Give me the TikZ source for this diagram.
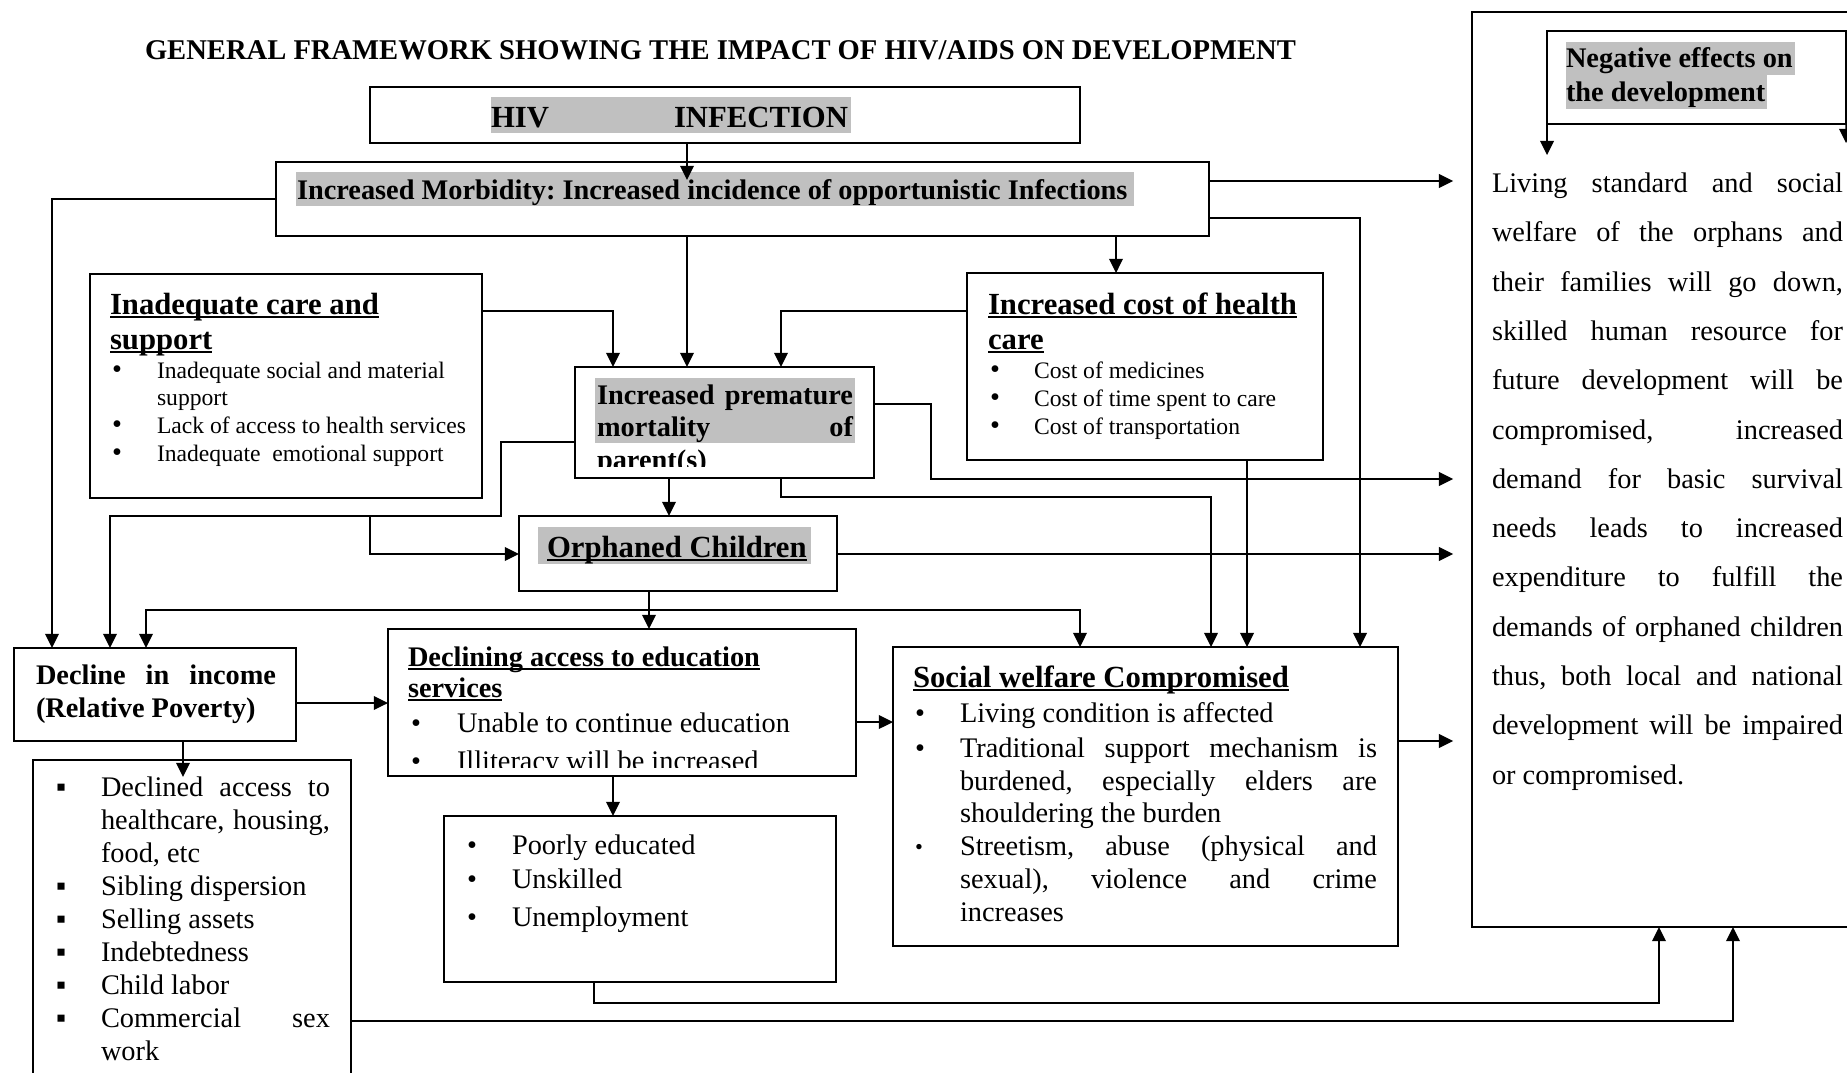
\documentclass[tikz,border=0pt]{standalone}
\usepackage{fontspec}
\setmainfont{Liberation Serif}
\usetikzlibrary{arrows.meta,fit}
\newdimen\px \px=0.4233pt
\definecolor{hl}{RGB}{192,192,192}
\newcommand\ul[1]{\setbox0\hbox{#1}\rlap{\rule[-0.13em]{\wd0}{0.065em}}\box0}
\newcommand\jl[2]{\makebox[#1\px][s]{#2}}
\tikzset{
  box/.style={draw, line width=0.85pt, inner sep=0pt, outer sep=0pt},
  txt/.style={anchor=base west, inner sep=0pt, outer sep=0pt},
  r12/.style={txt, font=\fontsize{12}{14}\selectfont\frenchspacing},
  b12/.style={txt, font=\fontsize{12}{14}\selectfont\bfseries\frenchspacing},
  b13/.style={txt, font=\fontsize{13}{15}\selectfont\bfseries\frenchspacing},
  r10/.style={txt, font=\fontsize{10}{12}\selectfont\frenchspacing},
  sb/.style={txt, font=\fontsize{9.5}{10}\selectfont},
  conn/.style={line width=0.65pt, -{Triangle[length=6pt,width=5.8pt]}},
}
\begin{document}
\frenchspacing
\begin{tikzpicture}[x=0.4233pt, y=-0.4233pt]
\useasboundingbox (0,0) rectangle (1847,1072);
\fill[white] (0,0) rectangle (1847,1072);

% ---------- boxes ----------
\node[box, fit={(370,87) (1080,143)}] (hiv) {};
\node[box, fit={(276,162) (1209,236)}] (morb) {};
\node[box, fit={(90,274) (482,498)}] (inad) {};
\node[box, fit={(575,367) (874,478)}] (prem) {};
\node[box, fit={(967,273) (1323,460)}] (cost) {};
\node[box, fit={(519,516) (837,591)}] (orph) {};
\node[box, fit={(14,648) (296,741)}] (dec) {};
\node[box, fit={(388,629) (856,776)}] (edu) {};
\node[box, fit={(893,647) (1398,946)}] (soc) {};
\node[box, fit={(33,760) (351,1110)}] (list) {};
\node[box, fit={(444,816) (836,982)}] (poor) {};
\node[box, fit={(1472,12) (1900,927)}] (rbox) {};
\node[box, fit={(1547,31) (1846,124)}] (neg) {};

% ---------- highlights ----------
\fill[hl] (491,97) rectangle (851,133);
\fill[hl] (296,172) rectangle (1134,206);
\fill[hl] (595,378) rectangle (855,443);
\fill[hl] (538,527) rectangle (811,564);
\fill[hl] (1566,42) rectangle (1795,75);
\fill[hl] (1566,75) rectangle (1767,109);

% ---------- texts ----------
\node[b12] (title) at (145,59) {\fontsize{12.1}{14}\selectfont GENERAL FRAMEWORK SHOWING THE IMPACT OF HIV/AIDS ON DEVELOPMENT};
\node[b13] (hivA) at (491,127) {HIV};
\node[b13] (hivB) at (674,127) {INFECTION};
\node[b12] (morbT) at (297,199) {Increased Morbidity: Increased incidence of opportunistic Infections};

\node[b13] (inad1) at (110,314) {\ul{Inadequate care and}};
\node[b13] (inad2) at (110,349) {\ul{support}};
\node[r12] (inadb1) at (112,378) {\textbullet};
\node[r10] (inad3) at (157,378) {Inadequate social and material};
\node[r10] (inad4) at (157,405) {support};
\node[r12] (inadb2) at (112,433) {\textbullet};
\node[r10] (inad5) at (157,433) {Lack of access to health services};
\node[r12] (inadb3) at (112,461) {\textbullet};
\node[r10] (inad6) at (157,461) {Inadequate\ \ emotional support};

\node[b13] (cost1) at (988,314) {\ul{Increased cost of health}};
\node[b13] (cost2) at (988,349) {\ul{care}};
\node[r12] (costb1) at (990,378) {\textbullet};
\node[r10] (cost3) at (1034,378) {Cost of medicines};
\node[r12] (costb2) at (990,406) {\textbullet};
\node[r10] (cost4) at (1034,406) {Cost of time spent to care};
\node[r12] (costb3) at (990,434) {\textbullet};
\node[r10] (cost5) at (1034,434) {Cost of transportation};

\begin{scope}
\clip (prem.north west) rectangle (874,466);
\node[b12] (prem1) at (597,404) {\jl{256}{Increased premature}};
\node[b12] (prem2) at (597,436) {\jl{256}{mortality of}};
\node[b12] (prem3) at (597,469) {parent(s)};
\end{scope}

\node[b13] (orphT) at (547,557) {\ul{Orphaned Children}};

\node[b12] (dec1) at (36,684) {\jl{240}{Decline in income}};
\node[b12] (dec2) at (36,717) {(Relative Poverty)};

\node[b12] (edu1) at (408,666) {\ul{Declining access to education}};
\node[b12] (edu2) at (408,697) {\ul{services}};
\begin{scope}
\clip (388,629) rectangle (856,767);
\node[r12] (edub1) at (411,732) {\textbullet};
\node[r12] (edu3) at (457,732) {Unable to continue education};
\node[r12] (edub2) at (411,770) {\textbullet};
\node[r12] (edu4) at (457,770) {Illiteracy will be increased};
\end{scope}

\node[r12] (poorb1) at (467,854) {\textbullet};
\node[r12] (poor1) at (512,854) {Poorly educated};
\node[r12] (poorb2) at (467,888) {\textbullet};
\node[r12] (poor2) at (512,888) {Unskilled};
\node[r12] (poorb3) at (467,926) {\textbullet};
\node[r12] (poor3) at (512,926) {Unemployment};

\node[b13] (soc0) at (913,687) {\ul{Social welfare Compromised}};
\node[r12] (socb1) at (915,722) {\textbullet};
\node[r12] (soc1) at (960,722) {Living condition is affected};
\node[r12] (socb2) at (915,757) {\textbullet};
\node[r12] (soc2) at (960,757) {\jl{417}{Traditional support mechanism is}};
\node[r12] (soc3) at (960,790) {\jl{417}{burdened, especially elders are}};
\node[r12] (soc4) at (960,822) {shouldering the burden};
\node[sb] (socb3) at (915,854) {\textbullet};
\node[r12] (soc5) at (960,855) {\jl{417}{Streetism, abuse (physical and}};
\node[r12] (soc6) at (960,888) {\jl{417}{sexual), violence and crime}};
\node[r12] (soc7) at (960,921) {increases};

\node[r12] (lsq1) at (56,796) {▪};
\node[r12] (l1) at (101,796) {\jl{229}{Declined access to}};
\node[r12] (l2) at (101,829) {\jl{229}{healthcare, housing,}};
\node[r12] (l3) at (101,862) {food, etc};
\node[r12] (lsq4) at (56,895) {▪};
\node[r12] (l4) at (101,895) {Sibling dispersion};
\node[r12] (lsq5) at (56,928) {▪};
\node[r12] (l5) at (101,928) {Selling assets};
\node[r12] (lsq6) at (56,961) {▪};
\node[r12] (l6) at (101,961) {Indebtedness};
\node[r12] (lsq7) at (56,994) {▪};
\node[r12] (l7) at (101,994) {Child labor};
\node[r12] (lsq8) at (56,1027) {▪};
\node[r12] (l8) at (101,1027) {\jl{229}{Commercial sex}};
\node[r12] (l9) at (101,1060) {work};

\node[b12] (neg1) at (1566,67.5) {Negative effects on};
\node[b12] (neg2) at (1566,101.5) {the development};

\node[r12] (rb1) at (1492,192.5) {\jl{351}{Living standard and social}};
\node[r12] (rb2) at (1492,241.8) {\jl{351}{welfare of the orphans and}};
\node[r12] (rb3) at (1492,291.1) {\jl{351}{their families will go down,}};
\node[r12] (rb4) at (1492,340.4) {\jl{351}{skilled human resource for}};
\node[r12] (rb5) at (1492,389.7) {\jl{351}{future development will be}};
\node[r12] (rb6) at (1492,439) {\jl{351}{compromised, increased}};
\node[r12] (rb7) at (1492,488.3) {\jl{351}{demand for basic survival}};
\node[r12] (rb8) at (1492,537.6) {\jl{351}{needs leads to increased}};
\node[r12] (rb9) at (1492,586.9) {\jl{351}{expenditure to fulfill the}};
\node[r12] (rb10) at (1492,636.2) {\jl{351}{demands of orphaned children}};
\node[r12] (rb11) at (1492,685.5) {\jl{351}{thus, both local and national}};
\node[r12] (rb12) at (1492,734.8) {\jl{351}{development will be impaired}};
\node[r12] (rb13) at (1492,784.1) {or compromised.};

% ---------- connectors ----------
\coordinate (hivtip) at (687,180);
\draw[conn] (hiv.south -| hivtip) -- (hivtip);
\draw[conn] (morb.west |- 0,199) -| (dec.north -| 52,0);
\draw[conn, shorten >=8pt] (morb.east |- 0,181) -- (rbox.west |- 0,181);
\draw[conn] (morb.east |- 0,218) -| (soc.north -| 1360,0);
\draw[conn] (morb.south -| 687,0) -- (prem.north -| 687,0);
\draw[conn] (morb.south -| 1116,0) -- (cost.north -| 1116,0);
\draw[conn] (inad.east |- 0,311) -| (prem.north -| 613,0);
\draw[conn] (cost.west |- 0,311) -| (prem.north -| 781,0);
\coordinate (j1) at (501,516);
\coordinate (j2) at (370,516);
\draw[conn] (prem.west |- 0,442) -| (j1) -| (dec.north -| 110,0);
\draw[conn] (j2) |- (orph.west |- 0,554);
\draw[conn] (prem.south -| 669,0) -- (orph.north -| 669,0);
\draw[conn, shorten >=8pt] (prem.east |- 0,404) -| (931,479) -- (rbox.west |- 0,479);
\draw[conn] (prem.south -| 781,0) |- (1211,497) -- (soc.north -| 1211,0);
\draw[conn] (cost.south -| 1247,0) -- (soc.north -| 1247,0);
\draw[conn, shorten >=8pt] (orph.east |- 0,554) -- (rbox.west |- 0,554);
\coordinate (j3) at (649,610);
\draw[conn] (orph.south -| j3) -- (edu.north -| j3);
\draw[conn] (j3) -| (dec.north -| 146,0);
\draw[conn] (j3) -| (soc.north -| 1080,0);
\draw[conn] (dec.east |- 0,703) -- (edu.west |- 0,703);
\coordinate (dectip) at (183,777);
\draw[conn] (dec.south -| dectip) -- (dectip);
\draw[conn] (edu.east |- 0,722) -- (soc.west |- 0,722);
\draw[conn] (edu.south -| 613,0) -- (poor.north -| 613,0);
\draw[conn, shorten >=8pt] (soc.east |- 0,741) -- (rbox.west |- 0,741);
\draw[conn] (poor.south -| 594,0) |- (1659,1003) -- (rbox.south -| 1659,0);
\draw[conn] (list.east |- 0,1021) -| (rbox.south -| 1733,0);
\coordinate (negtipA) at (1547,155);
\coordinate (negtipB) at (1846,143);
\draw[conn] (neg.south west) -- (negtipA);
\draw[conn] (neg.south east) -- (negtipB);
\end{tikzpicture}
\end{document}
